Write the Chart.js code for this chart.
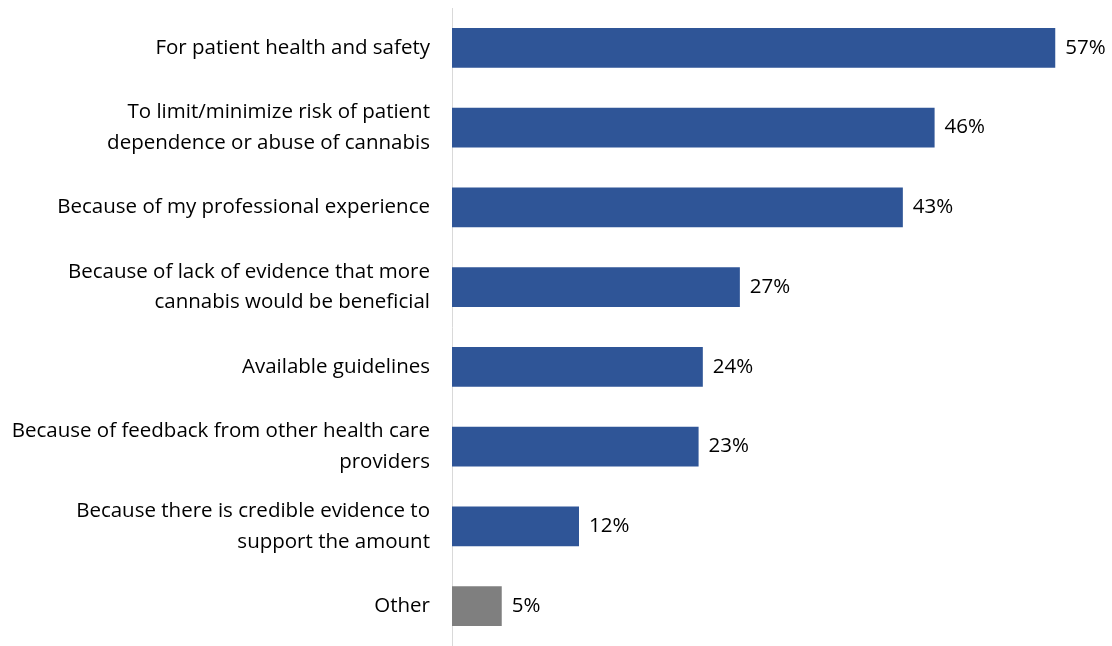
<!DOCTYPE html>
<html>
<head>
<meta charset="utf-8">
<script src="https://cdn.jsdelivr.net/npm/chart.js@4"></script>
<style>
  html, body { margin: 0; padding: 0; background: #fff; }
  #wrap { width: 1112px; height: 646px; }
</style>
</head>
<body>
<div id="wrap"><canvas id="reasons-chart" width="1112" height="646"></canvas></div>
<script>
// Категории (подписи слева)
const categories = [
    'For patient health and safety',
    ['To limit/minimize risk of patient', 'dependence or abuse of cannabis'],
    'Because of my professional experience',
    ['Because of lack of evidence that more', 'cannabis would be beneficial'],
    'Available guidelines',
    ['Because of feedback from other health care', 'providers'],
    ['Because there is credible evidence to', 'support the amount'],
    'Other'
];
// Значения (оценены по длине столбцов) и подписи, как на исходнике
const percentValues = [57.0, 45.6, 42.6, 27.2, 23.7, 23.3, 12.0, 4.7];
const percentLabels = ['57%', '46%', '43%', '27%', '24%', '23%', '12%', '5%'];
const barColors = ['#2F5597', '#2F5597', '#2F5597', '#2F5597', '#2F5597', '#2F5597', '#2F5597', '#7F7F7F'];

const fontFamily = "'Open Sans', 'Liberation Sans', sans-serif";
const fontSize = 20.5;

// Подписи значений справа от столбцов
const valueLabels = {
    id: 'valueLabels',
    afterDatasetsDraw(chart) {
        const ctx = chart.ctx;
        const meta = chart.getDatasetMeta(0);
        ctx.save();
        ctx.font = fontSize + 'px ' + fontFamily;
        ctx.fillStyle = '#000';
        ctx.textBaseline = 'middle';
        ctx.textAlign = 'left';
        meta.data.forEach((bar, i) => {
            ctx.fillText(percentLabels[i], bar.x + 10, bar.y);
        });
        ctx.restore();
    }
};

document.addEventListener('DOMContentLoaded', () => {
    const ctx = document.getElementById('reasons-chart').getContext('2d');
    new Chart(ctx, {
        type: 'bar',
        data: {
            labels: categories,
            datasets: [{
                data: percentValues,
                backgroundColor: barColors,
                borderWidth: 0,
                barPercentage: 0.5,
                categoryPercentage: 1
            }]
        },
        options: {
            indexAxis: 'y',
            responsive: false,
            animation: false,
            layout: { padding: { top: 8, bottom: -8, left: 0, right: 25 } },
            plugins: {
                legend: { display: false },
                tooltip: { enabled: false }
            },
            scales: {
                x: {
                    display: false,
                    min: 0,
                    max: 60
                },
                y: {
                    afterFit(scale) {
                        scale.width = 452;
                        scale.paddingTop = 0;
                        scale.paddingBottom = 0;
                    },
                    grid: { display: false, drawTicks: false },
                    border: { display: true, color: '#D9D9D9', width: 1 },
                    ticks: {
                        color: '#000',
                        padding: 22,
                        font: { size: fontSize, family: fontFamily, lineHeight: 1.5 }
                    }
                }
            }
        },
        plugins: [valueLabels]
    });
});
</script>
</body>
</html>
